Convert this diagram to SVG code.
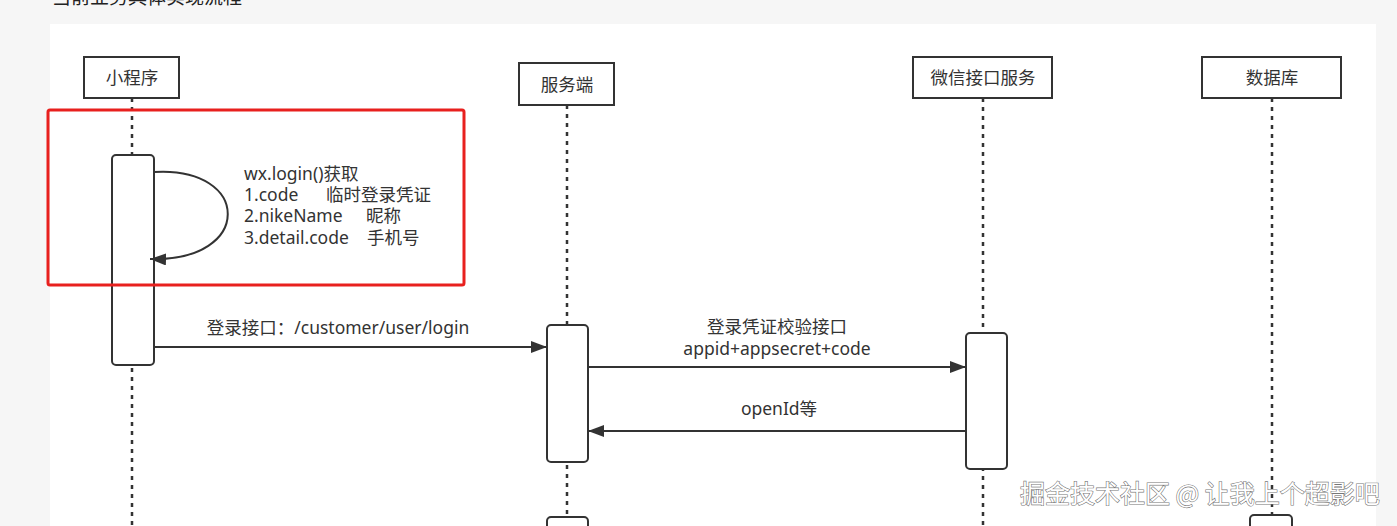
<svg xmlns="http://www.w3.org/2000/svg" width="1397" height="526" viewBox="0 0 1397 526">
<defs>
<style>
.box{fill:#fff;stroke:#333;stroke-width:2}
.act{fill:#fff;stroke:#333;stroke-width:2}
.life{stroke:#333;stroke-width:2.5;stroke-dasharray:4 5;fill:none}
.msg{stroke:#333;stroke-width:2;fill:none}
.t{font-family:"Noto Sans","Noto Sans CJK SC",sans-serif;font-size:17.5px;fill:#333}
.c{text-anchor:middle}
</style>
<marker id="arr" viewBox="0 0 16 12" refX="16" refY="6" markerWidth="16" markerHeight="12" markerUnits="userSpaceOnUse" orient="auto">
<path d="M0,0 L16,6 L0,12 Z" fill="#333"/>
</marker>
</defs>
<rect width="1397" height="526" fill="#f6f6f6"/>
<rect x="50" y="24" width="1326" height="502" fill="#fff"/>
<text x="52" y="4" font-family="'Noto Sans CJK SC',sans-serif" font-size="19" fill="#222">当前业务具体实现流程</text>

<g id="lifelines">
<line class="life" x1="132" y1="98" x2="132" y2="526"/>
<line class="life" x1="567" y1="105" x2="567" y2="526"/>
<line class="life" x1="983" y1="98" x2="983" y2="526"/>
<line class="life" x1="1272" y1="98" x2="1272" y2="526"/>
</g>

<g id="node-miniprogram">
<rect class="box" x="84" y="57" width="95" height="41"/>
<text class="t c" x="132" y="84">小程序</text>
</g>
<g id="node-server">
<rect class="box" x="519" y="63" width="95" height="42"/>
<text class="t c" x="567" y="91">服务端</text>
</g>
<g id="node-wechat">
<rect class="box" x="913" y="57" width="139" height="41"/>
<text class="t c" x="983" y="84">微信接口服务</text>
</g>
<g id="node-db">
<rect class="box" x="1202" y="57" width="139" height="41"/>
<text class="t c" x="1272" y="84">数据库</text>
</g>

<g id="activations">
<rect class="act" x="112" y="155" width="42" height="210" rx="4"/>
<rect class="act" x="547" y="325" width="41" height="137" rx="4"/>
<rect class="act" x="966" y="333" width="41" height="136" rx="4"/>
<rect class="act" x="547" y="517" width="41" height="30" rx="4"/>
<rect class="act" x="1250" y="515" width="42" height="30" rx="4"/>
</g>

<g id="connectors">
<path class="msg" d="M154,172 C252,166 254,262 150,259" marker-end="url(#arr)"/>
<line class="msg" x1="154" y1="347" x2="547" y2="347" marker-end="url(#arr)"/>
<line class="msg" x1="588" y1="367" x2="966" y2="367" marker-end="url(#arr)"/>
<line class="msg" x1="966" y1="431" x2="588" y2="431" marker-end="url(#arr)"/>
</g>

<g id="labels">
<text class="t" x="244" y="180">wx.login()获取</text>
<text class="t" x="244" y="201">1.code</text>
<text class="t" x="326" y="201">临时登录凭证</text>
<text class="t" x="244" y="222">2.nikeName</text>
<text class="t" x="366" y="222">昵称</text>
<text class="t" x="244" y="244">3.detail.code</text>
<text class="t" x="367" y="244">手机号</text>
<text class="t c" x="338" y="334">登录接口：/customer/user/login</text>
<text class="t c" x="777" y="333">登录凭证校验接口</text>
<text class="t c" x="777" y="355">appid+appsecret+code</text>
<text class="t c" x="779" y="415">openId等</text>
</g>

<rect id="highlight" x="48" y="110" width="416" height="175" rx="2" fill="none" stroke="#e8201e" stroke-width="3"/>

<text id="watermark" x="1020" y="503" font-family="'Noto Sans CJK SC',sans-serif" font-size="25" fill="#fff" stroke="#777" stroke-width="1.2" paint-order="stroke">掘金技术社区 @ 让我上个超影吧</text>
</svg>
